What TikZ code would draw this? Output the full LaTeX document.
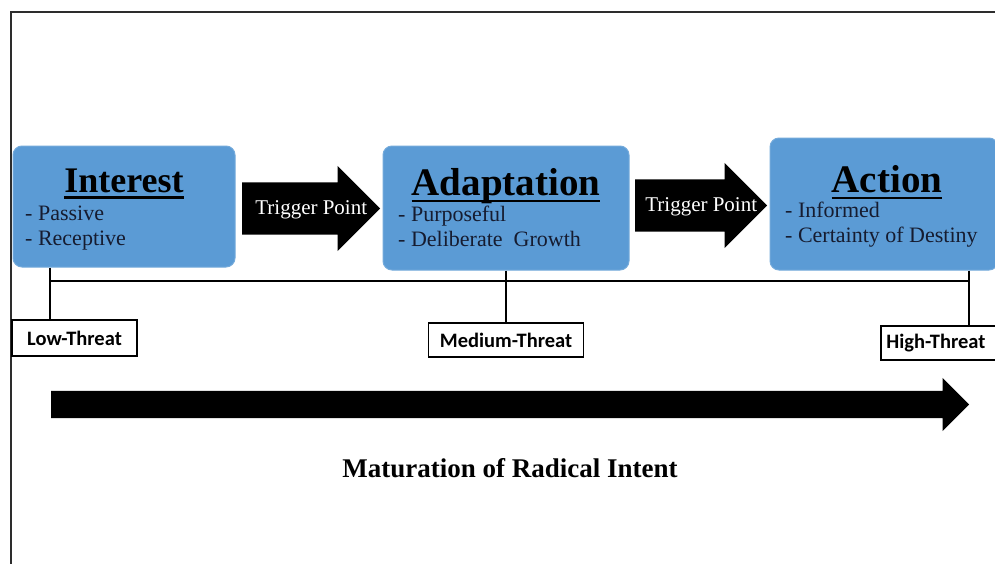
\documentclass[tikz,border=0pt]{standalone}
\usepackage{fontspec}
\setmainfont{Liberation Serif}
\newfontfamily\labelfont{Carlito}
\usetikzlibrary{shapes.arrows,calc}

\definecolor{stageblue}{RGB}{91,155,213}
\definecolor{itemink}{RGB}{22,28,48}
\definecolor{frameink}{RGB}{45,45,45}

\begin{document}
\begin{tikzpicture}[
        x=1pt, y=-1pt,
        rail/.style={line width=2.4pt,draw=black},
        underline/.style={line width=2.6pt,draw=black}
    ]
    %\usetikzlibrary{shapes.arrows,calc}

    \tikzstyle{stage} = [
        rectangle,
        rounded corners = 9pt,
        fill = stageblue,
        draw = stageblue!85!white,
        line width = 1pt
    ]
    \tikzstyle{title} = [
        anchor = base,
        inner sep = 0pt,
        font = \fontsize{39}{39}\selectfont\bfseries
    ]
    \tikzstyle{items} = [
        anchor = base west,
        inner sep = 0pt,
        align = left,
        text = itemink,
        font = \fontsize{22}{24.5}\selectfont
    ]
    \tikzstyle{trigger} = [
        single arrow,
        fill = black,
        inner sep = 0pt, inner ysep = 26pt,
        single arrow head extend = 16.5pt,
        single arrow head indent = 0pt,
        anchor = tail
    ]
    \tikzstyle{trigger label} = [
        text = white,
        inner sep = 0pt,
        font = \fontsize{21}{21}\selectfont
    ]
    \tikzstyle{threat} = [
        rectangle,
        draw = black,
        line width = 1.8pt,
        fill = white,
        inner sep = 0pt,
        font = \labelfont\bfseries\fontsize{20.5}{20.5}\selectfont
    ]
    \tikzstyle{drift} = [
        single arrow,
        fill = black,
        inner sep = 0pt, inner ysep = 13.5pt,
        single arrow head extend = 13pt,
        single arrow head indent = 0pt,
        anchor = tail
    ]

    \useasboundingbox (0,0) rectangle (995,563);
    \clip (0,0) rectangle (995,563);
    \fill[white] (0,0) rectangle (995,563);

    % frame
    \draw[line width=2pt,frameink] (11,570) -- (11,12) -- (1005,12);

    % stages
    \node [stage, minimum width=222pt, minimum height=121pt] (interest) at (124,206.5) {};
    \node [stage, minimum width=246pt, minimum height=124pt] (adaptation) at (506,208) {};
    \node [stage, minimum width=228pt, minimum height=132pt] (action) at (884,204) {};

    \node [title, font=\fontsize{36}{36}\selectfont\bfseries] (interest-title) at (124,192) {Interest};
    \node [title] (adaptation-title) at (506,195) {Adaptation};
    \node [title] (action-title) at (887,192) {Action};

    \draw [underline] ([yshift=-5.5pt]interest-title.base west) -- ([yshift=-5.5pt]interest-title.base east);
    \draw [underline] ([yshift=-6pt]adaptation-title.base west) -- ([yshift=-6pt]adaptation-title.base east);
    \draw [underline] ([yshift=-6pt]action-title.base west) -- ([yshift=-6pt]action-title.base east);

    % base anchor sits on the last line
    \node [items] (interest-items) at (25,245) {- Passive\\- Receptive};
    \node [items] (adaptation-items) at (398,246) {- Purposeful\\- Deliberate\ \ Growth};
    \node [items] (action-items) at (785,242) {- Informed\\- Certainty of Destiny};

    % trigger points
    \node [trigger, minimum height=138pt] (trigger-one) at (242,208.5) {};
    \node [trigger, minimum height=132pt] (trigger-two) at (635,205.5) {};
    \node [trigger label, yshift=-1.5pt] (trigger-one-text) at ($(trigger-one.tail)!0.5!(trigger-one.tip)$) {Trigger Point};
    \node [trigger label, yshift=-1.5pt] (trigger-two-text) at ($(trigger-two.tail)!0.5!(trigger-two.tip)$) {Trigger Point};

    % threat levels
    \node [threat, minimum width=125pt, minimum height=36pt] (low) at (74.5,338) {Low-Threat};
    \node [threat, minimum width=155pt, minimum height=34pt] (medium) at (506,340) {Medium-Threat};
    \node [threat, minimum width=120pt, minimum height=34pt, anchor=west] (high) at (880,343) {\hspace*{-10pt}High-Threat};

    \coordinate (low-tick) at (50,281);
    \coordinate (high-tick) at (969,281);
    \draw [rail] (low-tick) -- (high-tick);
    \draw [rail] (interest.south -| low-tick) -- (low.north -| low-tick);
    \draw [rail] (adaptation.south) -- (medium.north);
    \draw [rail] (action.south -| high-tick) -- (high.north -| high-tick);

    % maturation
    \node [drift, minimum height=918pt] (maturation) at (51,404.5) {};
    \node [font=\fontsize{27}{27}\selectfont\bfseries, anchor=base, inner sep=0pt] (maturation-text) at (510,477) {Maturation of Radical Intent};
\end{tikzpicture}
\end{document}
